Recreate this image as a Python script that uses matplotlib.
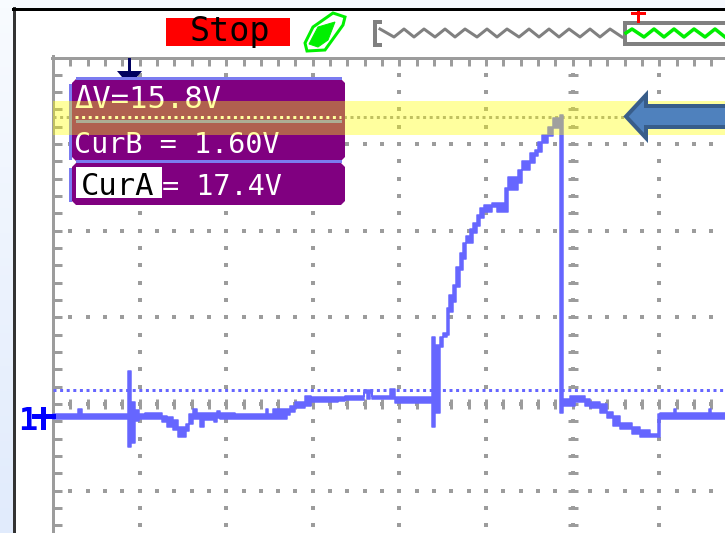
import numpy as np
import matplotlib
matplotlib.use('Agg')
import matplotlib.pyplot as plt
from matplotlib.patches import Polygon, Rectangle

# ----- trace (column start x, top y, bottom y of the envelope) -----
trace_x = [53, 78, 82, 128.5, 131, 135, 139, 145, 162, 167, 173, 178, 186, 189, 193, 197,
           200, 204, 214, 217, 220, 235, 266, 268, 273, 287, 290, 295, 305, 311, 338, 345,
           364, 367, 370, 372, 390, 395, 432, 435, 440, 443, 447, 449, 453, 456, 460, 463,
           466, 470, 473, 477, 480, 484, 492, 497, 505, 508, 518, 522, 530, 535, 538, 542,
           548, 553, 560, 563, 570, 575, 585, 590, 600, 607, 613, 620, 632, 640, 650, 658,
           660, 674, 676, 709, 711, 725]
trace_top = [413.5, 409, 413.5, 371, 402, 410, 414, 413, 416, 417, 420, 427, 424, 414, 409, 413,
             413, 413, 413, 411, 413, 413.5, 409, 413.5, 409, 409, 406, 402, 396, 397, 397, 396,
             390, 390, 390, 396, 389, 397, 337, 345, 337, 333, 308, 295, 285, 267, 253, 243,
             236, 229, 223, 215, 208, 205, 203, 203, 188, 177, 170, 161, 153, 150, 142, 135,
             127, 118, 115, 399, 396, 396, 399, 402, 404, 412, 416, 423, 427, 430, 434, 414,
             413, 409, 413, 409, 413]
trace_bot = [418.5, 418.5, 418.5, 447, 443, 421, 419, 419, 422, 427, 430, 437, 431, 424, 419, 419,
             427, 420, 422, 418, 419, 419, 419, 419, 419, 415, 412, 408, 406, 402, 401, 399.5,
             393, 399, 393, 399, 399, 402.5, 427, 413, 347, 337, 335, 312, 302, 287, 270, 259,
             243, 243, 233, 226, 218, 212, 207, 212, 212, 190, 183, 170, 163, 156, 152, 143,
             136, 128, 413, 406, 406, 402, 406, 408, 413, 418, 426, 429, 434, 437, 437, 437,
             419, 419, 419, 419, 419]

# delayed-sweep overview waveform at the top
wave_gray_x = [380, 394, 404, 414, 424, 435, 445, 455, 465, 477, 487, 497, 507, 519, 529, 539, 549, 559, 569, 580, 590, 600, 610, 622]
wave_gray_y = [29, 37, 29, 37, 29, 37, 29, 37, 29, 37, 29, 37, 29, 37, 29, 37, 29, 37, 29, 37, 29, 37, 29, 37]
wave_green_x = [626, 632, 644, 654, 664, 674, 684, 694, 705, 715, 725]
wave_green_y = [33, 29, 37, 29, 37, 29, 37, 29, 37, 29, 37]

readout_dv = 'ΔV=15.8V'
readout_curb = 'CurB = 1.60V'
readout_cura_name = 'CurA'
readout_cura_val = '= 17.4V'

W, H = 725, 533
PX = 0.72  # one pixel in points at dpi 100
GRAY = '#9c9c9c'
BLUE = '#6666ff'
PURPLE = '#800080'
STRIPE = '#7b7bf0'
GREEN = '#00f000'
MONO = 'DejaVu Sans Mono'

fig = plt.figure(figsize=(W / 100, H / 100), dpi=100)
ax = fig.add_axes([0, 0, 1, 1])
ax.axis('off')

# ----- outer window -----
shade = np.linspace(0, 1, 64).reshape(-1, 1, 1) * np.array([[[-23, -16, -3]]]) + np.array([[[248, 251, 255]]])
ax.imshow(shade.astype(np.uint8), extent=(0, 14, H, 0), aspect='auto', zorder=0)
ax.add_patch(Rectangle((14, 0), W - 14, 8, color='#f6f9fe', lw=0, zorder=0))
ax.plot([14.5, 14.5], [8, H], color='#333333', lw=3 * PX, zorder=1)
ax.plot([13, W], [9, 9], color='black', lw=3 * PX, zorder=1)

# ----- status bar -----
ax.add_patch(Rectangle((166, 18), 124, 28, color='#ff0000', lw=0, zorder=1))
ax.text(230, 41, 'Stop', family=MONO, fontsize=24, color='black', ha='center', va='baseline', zorder=2)

ax.add_patch(Polygon([(305, 43), (313, 27), (333, 13), (345, 17), (343, 25), (325, 50), (307, 51)],
                     closed=True, fc='white', ec=GREEN, lw=3 * PX, zorder=1))
ax.add_patch(Polygon([(309, 44), (318, 27), (335, 22), (328, 40), (318, 47)],
                     closed=True, fc=GREEN, ec=GREEN, lw=PX, zorder=2))

ax.plot([380, 375, 375, 380], [22, 22, 45, 45], color='#808080', lw=4 * PX, zorder=1, solid_joinstyle='miter')
ax.plot(wave_gray_x, wave_gray_y, color='#808080', lw=3 * PX, zorder=1)
ax.plot(wave_green_x, wave_green_y, color='#00ee00', lw=3.5 * PX, zorder=2)
ax.plot([W, 625, 625, W], [23, 23, 44, 44], color='#808080', lw=4 * PX, zorder=1, solid_joinstyle='miter')
ax.plot([632, 644], [12.5, 12.5], color='#ff0000', lw=3 * PX, zorder=2)
ax.plot([638, 638], [12, 21], color='#ff0000', lw=3 * PX, zorder=2)

# ----- graticule -----
div = 86.6
major_x = 53 + div * np.arange(1, 8)
major_y = 57.5 + div * np.arange(0, 6)
minor_x = 53 + div / 5 * np.arange(1, 39)
minor_y = 57.5 + div / 5 * np.arange(1, 28)
center_x = major_x[5]
center_y = major_y[4]

ax.plot([53.5, 53.5], [56, H], color=GRAY, lw=3 * PX, zorder=2)
ax.plot([52, W], [57.5, 57.5], color=GRAY, lw=3 * PX, zorder=2)
ax.vlines(minor_x, 57, 66, color=GRAY, lw=3 * PX, zorder=2)
ax.hlines(minor_y, 53, 62, color=GRAY, lw=3 * PX, zorder=2)
ax.vlines(minor_x, center_y - 5, center_y + 5, color=GRAY, lw=3 * PX, zorder=2)
ax.hlines(minor_y, center_x - 5, center_x + 5, color=GRAY, lw=3 * PX, zorder=2)
gx, gy = np.meshgrid(major_x, minor_y)
ax.plot(gx.ravel(), gy.ravel(), ls='none', marker='s', ms=3.5 * PX, mew=0, color=GRAY, zorder=2)
gx, gy = np.meshgrid(minor_x, major_y[1:])
ax.plot(gx.ravel(), gy.ravel(), ls='none', marker='s', ms=3.5 * PX, mew=0, color=GRAY, zorder=2)

# ----- cursors and trace -----
ax.plot([53, 625], [116.5, 116.5], color=GRAY, lw=3 * PX, dashes=(1, 1.2), zorder=3)
ax.plot([53, W], [390, 390], color=BLUE, lw=3 * PX, dashes=(1, 1.2), zorder=3)
ax.fill_between(trace_x, trace_top + trace_top[-1:], trace_bot + trace_bot[-1:],
                step='post', color=BLUE, lw=1.5 * PX, zorder=4)

# ground and trigger markers
ax.text(27.5, 430, '1', family=MONO, fontweight='bold', fontsize=23, color='#0000ff',
        ha='center', va='baseline', zorder=5)
ax.plot([34, 53], [416, 416], color='#0000ff', lw=5 * PX, zorder=5)
ax.plot([43, 43], [409, 427], color='#0000ff', lw=5 * PX, zorder=5)
ax.add_patch(Polygon([(117, 71), (142, 71), (137, 77), (122, 77)], closed=True, fc='#000060', lw=0, zorder=5))
ax.plot([129.5, 129.5], [59, 72], color='#000060', lw=3 * PX, zorder=5)

# ----- readout boxes -----
def box(x0, y0, x1, y1, cut=4):
    pts = [(x0 + cut, y0), (x1 - cut, y0), (x1, y0 + cut), (x1, y1 - cut),
           (x1 - cut, y1), (x0 + cut, y1), (x0, y1 - cut), (x0, y0 + cut)]
    ax.add_patch(Polygon(pts, closed=True, fc=PURPLE, lw=0, zorder=6))

box(72, 79, 345, 161)
box(72, 163, 345, 205)
ax.add_patch(Rectangle((69, 84), 3, 76, color=STRIPE, lw=0, zorder=6))
ax.add_patch(Rectangle((69, 168), 3, 34, color=STRIPE, lw=0, zorder=6))
ax.add_patch(Rectangle((76, 77), 266, 2.5, color=STRIPE, lw=0, zorder=6))
ax.add_patch(Rectangle((76, 119.5), 266, 3, color=STRIPE, lw=0, zorder=7))
ax.add_patch(Rectangle((76, 160), 266, 3, color=STRIPE, lw=0, zorder=7))
ax.plot([75, 341], [116.5, 116.5], color='#ffffff', lw=3 * PX, dashes=(1, 1.2), zorder=7)

ax.add_patch(Rectangle((76, 167), 86, 31, color='white', lw=0, zorder=7))
ax.text(74, 108, readout_dv, family=MONO, fontsize=22, color='white', va='baseline', zorder=8)
ax.text(74, 153, readout_curb, family=MONO, fontsize=20.5, color='white', va='baseline', zorder=8)
ax.text(81, 195, readout_cura_name, family=MONO, fontsize=22, color='black', va='baseline', zorder=8)
ax.text(162, 195, readout_cura_val, family=MONO, fontsize=20.5, color='white', va='baseline', zorder=8)

# ----- highlight band and callout arrow -----
ax.add_patch(Rectangle((53, 101), W - 53, 34, fc='#ffff00', alpha=0.38, lw=0, zorder=9))
ax.add_patch(Polygon([(626, 116.5), (646, 95), (646, 106), (W + 5, 106), (W + 5, 127), (646, 127), (646, 138)],
                     closed=True, fc='#4f81bd', ec='#385d8a', lw=4 * PX, zorder=10, joinstyle='miter'))

ax.set_xlim(0, W)
ax.set_ylim(H, 0)

fig.savefig('out.png', dpi=100)
